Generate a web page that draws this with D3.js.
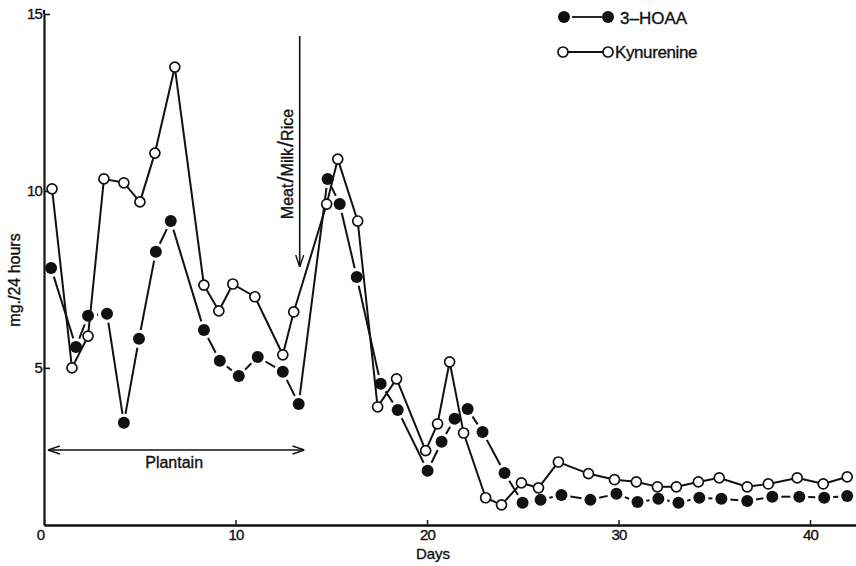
<!DOCTYPE html>
<html>
<head>
<meta charset="utf-8">
<script src="https://cdn.jsdelivr.net/npm/d3@7"></script>
<style>
  html, body { margin: 0; padding: 0; background: #fff; }
  svg { display: block; font-family: "Liberation Sans", Arial, Helvetica, sans-serif; }
  svg text { stroke: #111; stroke-width: 0.35px; }
</style>
</head>
<body>
<svg id="chart" width="856" height="566"></svg>
<script>
'use strict';

/* 3-HOAA (filled circles) */
const hoaaDays = [0.37, 1.67, 2.30, 3.29, 4.17, 4.96, 5.84, 6.62, 8.35, 9.18,
                  10.17, 11.16, 12.47, 13.30, 14.81, 15.44, 16.33, 17.58, 18.47, 20.03,
                  20.76, 21.44, 22.12, 22.90, 24.05, 24.99, 25.93, 27.02, 28.53, 29.89,
                  30.99, 32.08, 33.13, 34.22, 35.37, 36.72, 38.03, 39.44, 40.74, 41.94];
const hoaaVals = [7.82, 5.59, 6.47, 6.53, 3.45, 5.82, 8.28, 9.15, 6.07, 5.20,
                  4.77, 5.31, 4.89, 3.98, 10.34, 9.63, 7.57, 4.55, 3.81, 2.09,
                  2.91, 3.56, 3.84, 3.19, 2.03, 1.19, 1.27, 1.41, 1.27, 1.44,
                  1.21, 1.30, 1.19, 1.33, 1.30, 1.24, 1.36, 1.36, 1.33, 1.38];

/* Kynurenine (open circles) */
const kynDays = [0.42, 1.46, 2.30, 3.13, 4.17, 5.01, 5.79, 6.83, 8.35, 9.13,
                 9.86, 11.01, 12.47, 13.04, 14.76, 15.34, 16.38, 17.42, 18.41, 19.93,
                 20.55, 21.18, 21.91, 23.06, 23.89, 24.93, 25.82, 26.86, 28.43, 29.79,
                 30.93, 32.03, 33.02, 34.17, 35.26, 36.72, 37.82, 39.33, 40.69, 41.94];
const kynVals = [10.06, 5.00, 5.90, 10.34, 10.23, 9.69, 11.07, 13.50, 7.34, 6.61,
                 7.37, 7.01, 5.37, 6.58, 9.63, 10.90, 9.15, 3.90, 4.69, 2.66,
                 3.42, 5.17, 3.16, 1.33, 1.13, 1.75, 1.61, 2.34, 2.01, 1.84,
                 1.78, 1.64, 1.64, 1.78, 1.89, 1.64, 1.72, 1.89, 1.72, 1.92];

const xTicks = [0, 10, 20, 30, 40];
const yTicks = [5, 10, 15];
const dietSwitchDay = 13.3;   // Meat/Milk/Rice arrow
const plantainSpan = [0.2, 13.6];

const svg = d3.select('#chart');

const x = d3.scaleLinear().domain([0, 42.4]).range([44, 856]);
const y = d3.scaleLinear().domain([0.56, 15]).range([525, 14]);

const ink = '#111';

/* Axes */
const yAxis = d3.axisLeft(y).tickValues(yTicks).tickSizeInner(-6).tickSizeOuter(0).tickPadding(2);
const gy = svg.append('g').attr('transform', `translate(${x(0)},0)`).call(yAxis);
gy.select('.domain').attr('stroke', ink).attr('stroke-width', 2.2);
gy.selectAll('.tick line').attr('stroke', ink).attr('stroke-width', 1.6);
gy.selectAll('.tick text').attr('fill', ink).style('font-size', '15px').attr('letter-spacing', '-0.8');
svg.append('line').attr('x1', x(0)).attr('x2', x(0)).attr('y1', 10).attr('y2', y(15))
  .attr('stroke', ink).attr('stroke-width', 2.2);

const xAxis = d3.axisBottom(x).tickValues(xTicks).tickSizeInner(-5).tickSizeOuter(0).tickPadding(4);
const gx = svg.append('g').attr('transform', `translate(0,${y(0.56)})`).call(xAxis);
gx.select('.domain').attr('stroke', ink).attr('stroke-width', 2.4);
gx.selectAll('.tick line').attr('stroke', ink).attr('stroke-width', 1.4);
gx.selectAll('.tick text').attr('fill', ink).style('font-size', '15px').attr('letter-spacing', '-0.8')
  .attr('dx', d => d === 0 ? -4 : 0);

svg.append('text').attr('x', 433).attr('y', 559).attr('text-anchor', 'middle')
  .style('font-size', '15px').attr('fill', ink).text('Days');

svg.append('text')
  .attr('transform', `translate(20,280) rotate(-90)`)
  .attr('text-anchor', 'middle').style('font-size', '16px').attr('fill', ink)
  .text('mg./24 hours');

/* Annotations */
const defs = svg.append('defs');
defs.append('marker').attr('id', 'arrow').attr('viewBox', '0 -5 12 10')
  .attr('refX', 12).attr('refY', 0).attr('markerWidth', 12).attr('markerHeight', 10)
  .attr('markerUnits', 'userSpaceOnUse').attr('orient', 'auto-start-reverse')
  .append('path').attr('d', 'M0,-4L12,0L0,4').attr('fill', 'none').attr('stroke', ink).attr('stroke-width', 1.4);

svg.append('line')
  .attr('x1', x(dietSwitchDay) + 1).attr('x2', x(dietSwitchDay) + 1)
  .attr('y1', 36).attr('y2', 267)
  .attr('stroke', ink).attr('stroke-width', 1.6).attr('marker-end', 'url(#arrow)');

const diet = svg.append('text')
  .attr('transform', `translate(${x(dietSwitchDay) - 6},164) rotate(-90)`)
  .attr('text-anchor', 'middle').style('font-size', '16px').attr('fill', ink);
diet.append('tspan').text('Meat');
diet.append('tspan').style('font-size', '22px').attr('dx', 1).text('/');
diet.append('tspan').text('Milk');
diet.append('tspan').style('font-size', '22px').attr('dx', 1).text('/');
diet.append('tspan').text('Rice');

svg.append('line')
  .attr('x1', x(plantainSpan[0])).attr('x2', x(plantainSpan[1]))
  .attr('y1', 450).attr('y2', 450)
  .attr('stroke', ink).attr('stroke-width', 1.4)
  .attr('marker-start', 'url(#arrow)').attr('marker-end', 'url(#arrow)');
svg.append('text').attr('x', x((plantainSpan[0] + plantainSpan[1]) / 2) - 2).attr('y', 468)
  .attr('text-anchor', 'middle').style('font-size', '16px').attr('fill', ink).text('Plantain');

/* Series: line segments stop short of the markers */
function segments(days, vals, gap) {
  const pts = days.map((d, i) => [x(d), y(vals[i])]);
  return d3.pairs(pts).map(([a, b]) => {
    const dx = b[0] - a[0], dy = b[1] - a[1];
    const len = Math.hypot(dx, dy);
    const ux = dx / len, uy = dy / len;
    return { x1: a[0] + ux * gap, y1: a[1] + uy * gap, x2: b[0] - ux * gap, y2: b[1] - uy * gap, len };
  }).filter(s => s.len > 2 * gap);
}

const kynSeg = segments(kynDays, kynVals, 5);
const hoaaSeg = segments(hoaaDays, hoaaVals, 9);

svg.append('g').selectAll('line').data(kynSeg).join('line')
  .attr('x1', d => d.x1).attr('y1', d => d.y1).attr('x2', d => d.x2).attr('y2', d => d.y2)
  .attr('stroke', ink).attr('stroke-width', 2);

svg.append('g').selectAll('line').data(hoaaSeg).join('line')
  .attr('x1', d => d.x1).attr('y1', d => d.y1).attr('x2', d => d.x2).attr('y2', d => d.y2)
  .attr('stroke', ink).attr('stroke-width', 2);

svg.append('g').selectAll('circle').data(kynDays).join('circle')
  .attr('cx', d => x(d)).attr('cy', (d, i) => y(kynVals[i])).attr('r', 5)
  .attr('fill', '#fff').attr('stroke', ink).attr('stroke-width', 1.7);

svg.append('g').selectAll('circle').data(hoaaDays).join('circle')
  .attr('cx', d => x(d)).attr('cy', (d, i) => y(hoaaVals[i])).attr('r', 6)
  .attr('fill', ink);

/* Legend */
const legend = svg.append('g');
legend.append('line').attr('x1', 572).attr('x2', 602).attr('y1', 17).attr('y2', 17)
  .attr('stroke', ink).attr('stroke-width', 1.8);
legend.selectAll('circle.f').data([564, 608]).join('circle').attr('class', 'f')
  .attr('cx', d => d).attr('cy', 17).attr('r', 6).attr('fill', ink);
legend.append('text').attr('x', 620).attr('y', 24).style('font-size', '17px').attr('fill', ink).text('3–HOAA');

legend.append('line').attr('x1', 568).attr('x2', 603).attr('y1', 52).attr('y2', 52)
  .attr('stroke', ink).attr('stroke-width', 1.8);
legend.selectAll('circle.o').data([563, 608]).join('circle').attr('class', 'o')
  .attr('cx', d => d).attr('cy', 52).attr('r', 5).attr('fill', '#fff').attr('stroke', ink).attr('stroke-width', 1.7);
legend.append('text').attr('x', 615).attr('y', 58).style('font-size', '17px').attr('fill', ink)
  .attr('letter-spacing', '-0.4').text('Kynurenine');
</script>
</body>
</html>
